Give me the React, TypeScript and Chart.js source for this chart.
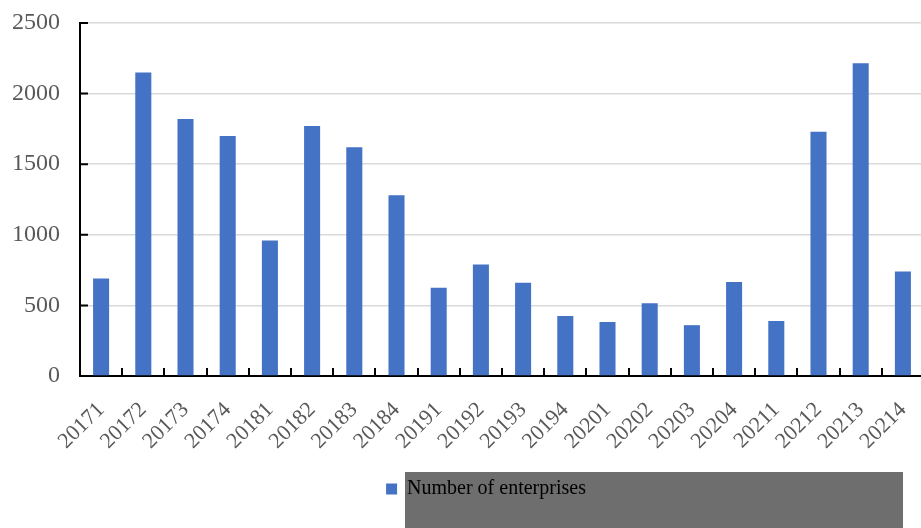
import React, { useEffect, useRef } from "react";
import { Chart, registerables } from "chart.js";

Chart.register(...registerables);

const categories = [
  "20171", "20172", "20173", "20174",
  "20181", "20182", "20183", "20184",
  "20191", "20192", "20193", "20194",
  "20201", "20202", "20203", "20204",
  "20211", "20212", "20213", "20214",
];

const enterprises = [
  690, 2150, 1820, 1700,
  960, 1770, 1620, 1280,
  625, 790, 660, 425,
  382, 515, 360, 665,
  390, 1730, 2215, 740,
];

const yTicks = [0, 500, 1000, 1500, 2000, 2500];
const seriesLabel = "Number of enterprises";

const W = 972;
const H = 528;

const decorPlugin = {
  id: "decor",
  afterLayout(chart: any) {
    const lg = chart.legend;
    if (lg) {
      lg.left += 24;
      lg.right += 24;
    }
  },
  beforeDraw(chart: any) {
    const ctx = chart.ctx;
    ctx.save();
    ctx.fillStyle = "#6e6e6e";
    ctx.fillRect(405, 472, 498, 56);
    ctx.restore();
  },
  afterDraw(chart: any) {
    const ctx = chart.ctx;
    const area = chart.chartArea;
    const x = chart.scales.x;
    const y = chart.scales.y;
    ctx.save();
    ctx.strokeStyle = "#000000";
    ctx.lineWidth = 2;
    ctx.beginPath();
    for (const t of y.ticks) {
      const py = y.getPixelForValue(t.value);
      if (Math.abs(py - area.bottom) < 1) continue;
      ctx.moveTo(area.left, py);
      ctx.lineTo(area.left + 8, py);
    }
    const n = categories.length;
    const step = (x.right - x.left) / n;
    for (let i = 1; i <= n; i++) {
      const px = Math.round(x.left + i * step);
      ctx.moveTo(px, area.bottom);
      ctx.lineTo(px, area.bottom - 8);
    }
    ctx.stroke();
    ctx.restore();
  },
};

export default function App() {
  const ref = useRef<HTMLCanvasElement | null>(null);

  useEffect(() => {
    if (!ref.current) return;
    const chart = new Chart(ref.current, {
      type: "bar",
      data: {
        labels: categories,
        datasets: [
          {
            label: seriesLabel,
            data: enterprises,
            backgroundColor: "#4472C4",
            borderWidth: 0,
            categoryPercentage: 1,
            barPercentage: 0.38,
          },
        ],
      },
      options: {
        animation: false,
        responsive: false,
        layout: { padding: { left: 0, right: 48, top: 23, bottom: 19 } },
        plugins: {
          tooltip: { enabled: false },
          legend: {
            display: true,
            position: "bottom",
            labels: {
              boxWidth: 11,
              boxHeight: 11,
              padding: 10,
              color: "#000000",
              font: { family: "'Liberation Serif', 'Times New Roman', serif", size: 20 },
            },
          },
        },
        scales: {
          x: {
            offset: true,
            grid: { display: false },
            border: { display: true, color: "#000000", width: 2 },
            ticks: {
              autoSkip: false,
              minRotation: 45,
              maxRotation: 45,
              padding: 13,
              color: "#595959",
              font: { family: "'Liberation Serif', 'Times New Roman', serif", size: 22 },
            },
            afterFit(scale: any) {
              scale.height = 93;
            },
          },
          y: {
            min: 0,
            max: 2500,
            afterBuildTicks(scale: any) {
              scale.ticks = yTicks.map((v) => ({ value: v }));
            },
            grid: { color: "#d9d9d9", lineWidth: 1.5, drawTicks: false },
            border: { display: true, color: "#000000", width: 2 },
            ticks: {
              padding: 20,
              color: "#595959",
              font: { family: "'Liberation Serif', 'Times New Roman', serif", size: 24 },
              callback: (v: any) => String(v),
            },
            afterFit(scale: any) {
              scale.width = 80;
              scale.paddingTop = 12;
              scale.paddingBottom = 12;
            },
          },
        },
      },
      plugins: [decorPlugin],
    });
    return () => chart.destroy();
  }, []);

  return (
    <div style={{ position: "fixed", left: 0, top: 0, width: 921, height: 528, overflow: "hidden", background: "#ffffff" }}>
      <canvas ref={ref} width={W} height={H} style={{ position: "absolute", left: 0, top: 0, width: W, height: H }} />
    </div>
  );
}
